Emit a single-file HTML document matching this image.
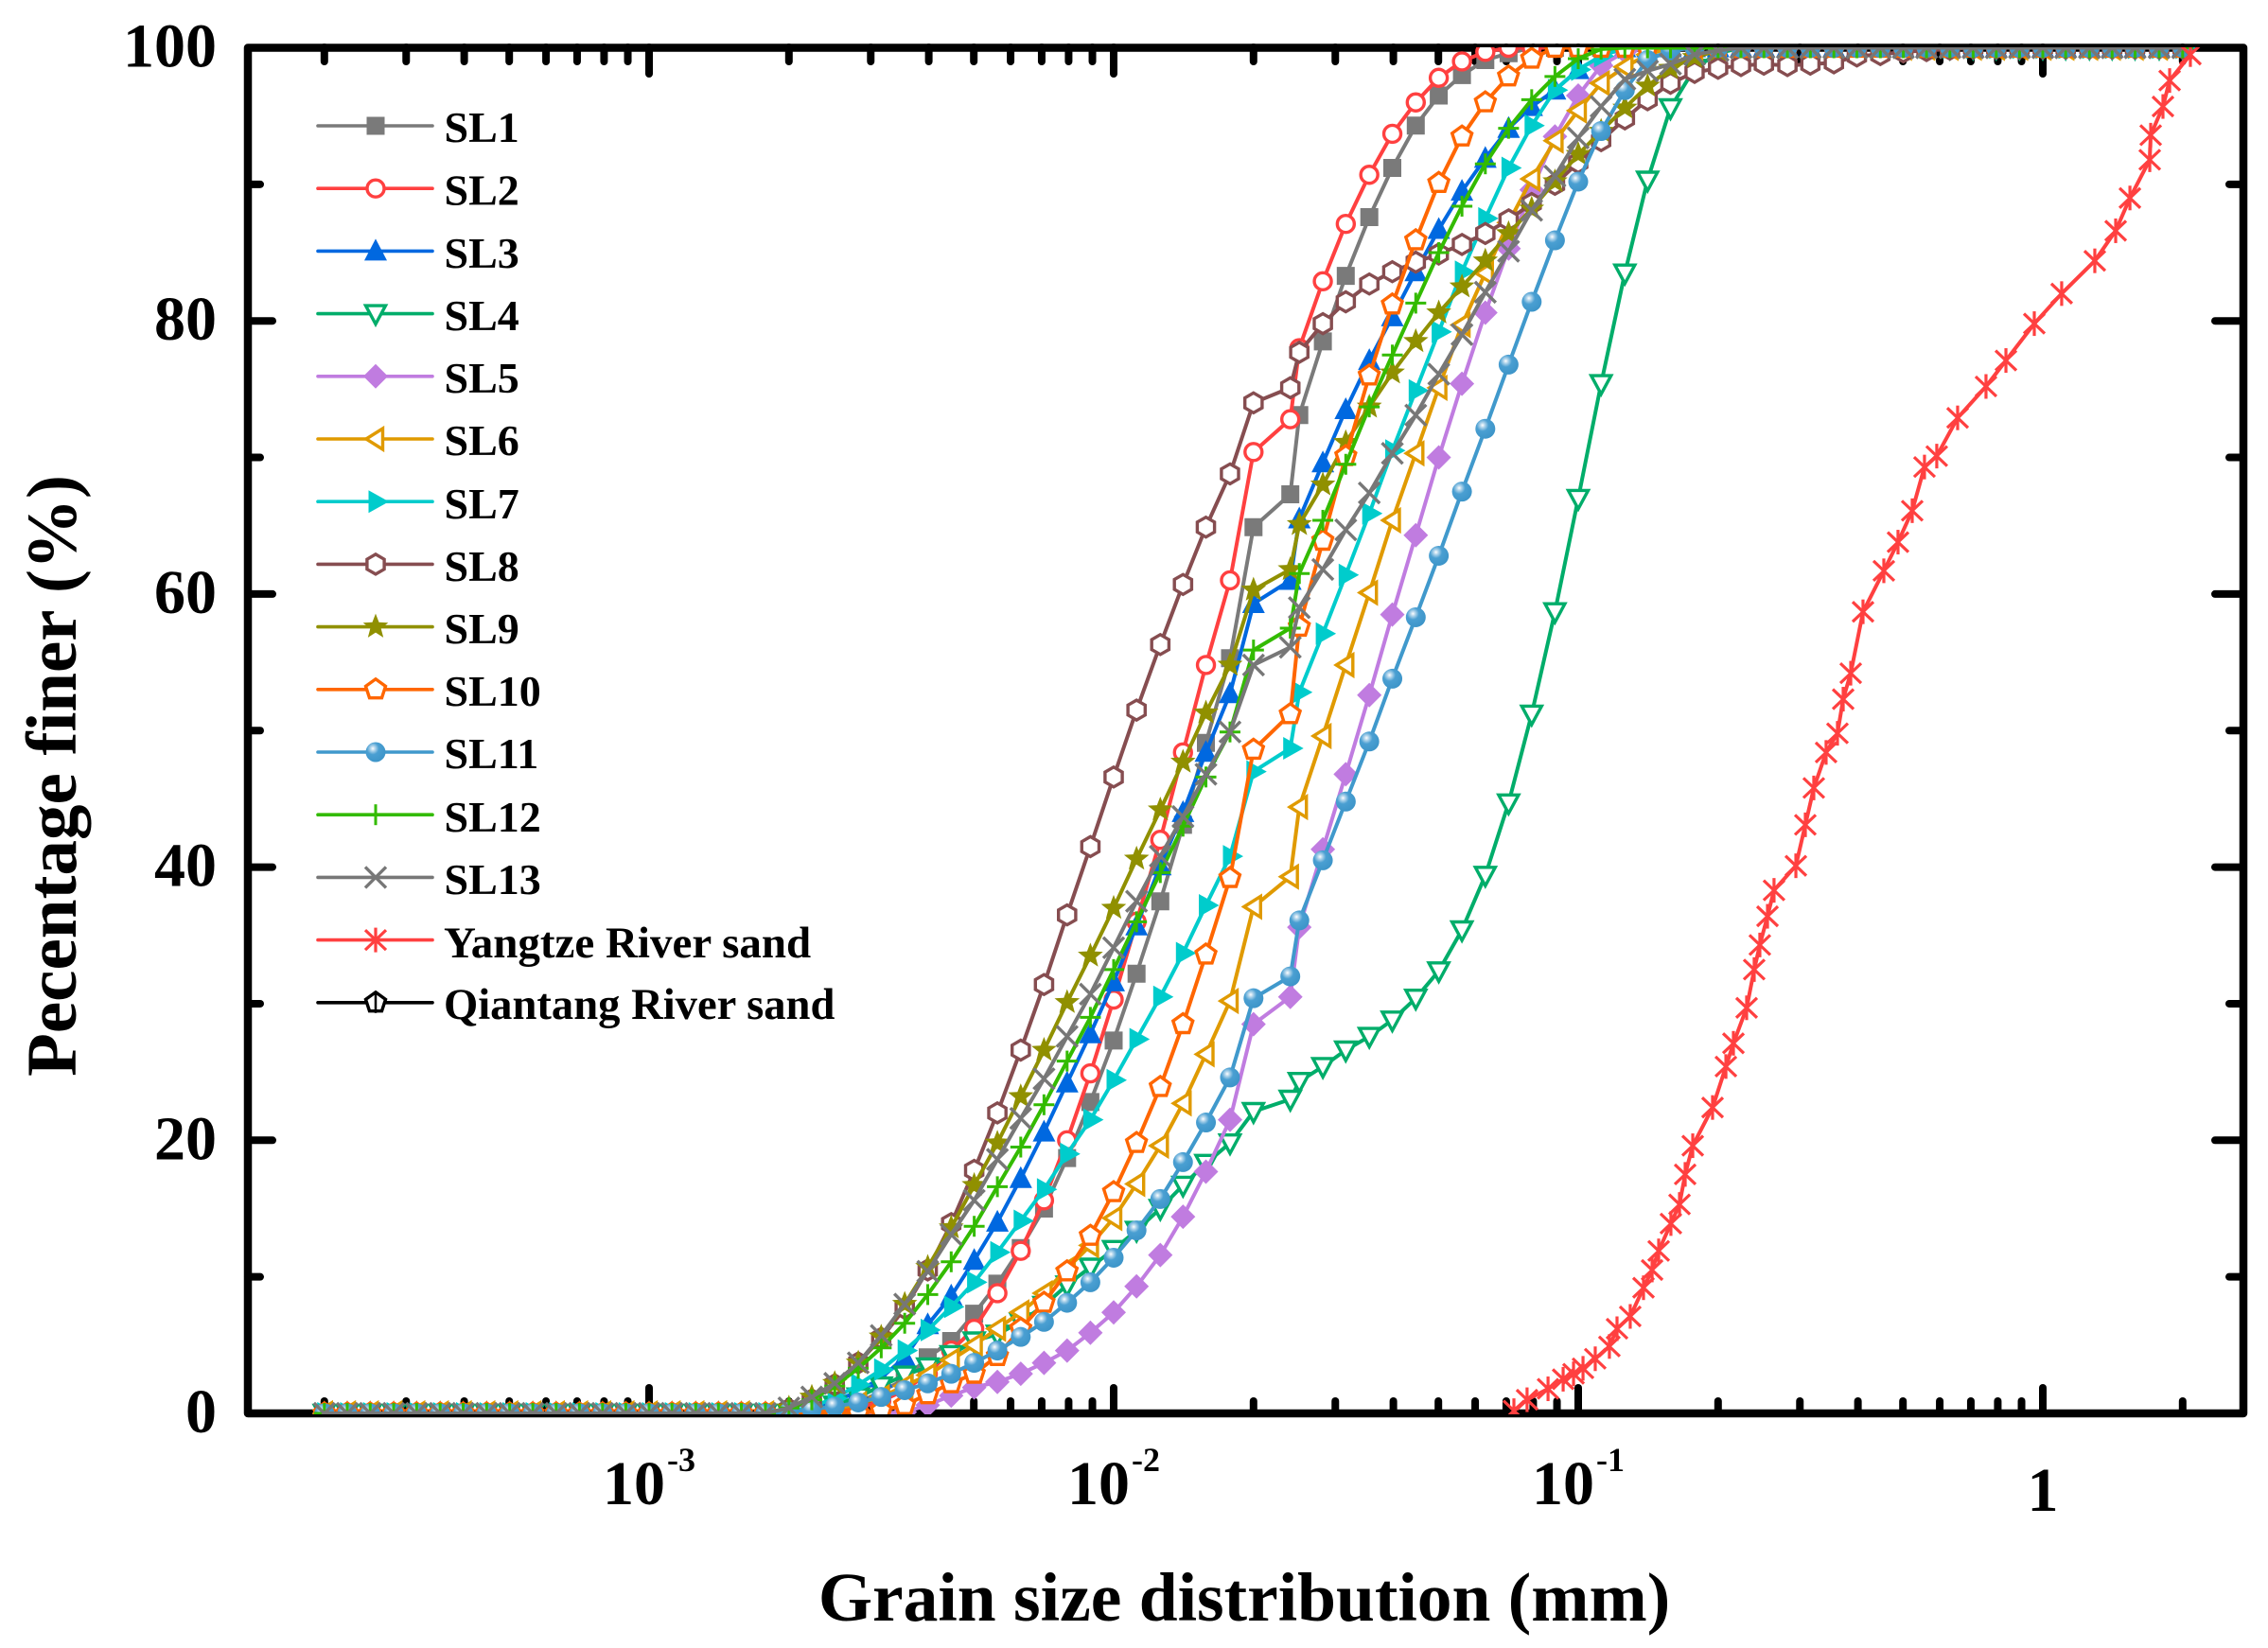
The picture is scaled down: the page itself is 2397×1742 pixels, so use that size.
<!DOCTYPE html>
<html lang="en">
<head>
<meta charset="utf-8">
<title>Grain size distribution</title>
<style>
  html, body { margin: 0; padding: 0; background: #fff; }
  svg { display: block; }
  text { font-family: "Liberation Serif", serif; font-weight: bold; fill: #000; }
</style>
</head>
<body>
<svg id="chart" xmlns="http://www.w3.org/2000/svg" width="2397" height="1742" viewBox="0 0 2397 1742">
  <defs>
    <clipPath id="plot-clip"><rect x="250" y="50" width="2130" height="1445"></rect></clipPath>
    <radialGradient id="ball-fill" cx="0.36" cy="0.32" r="0.72">
      <stop offset="0" stop-color="#ffffff"></stop>
      <stop offset="0.16" stop-color="#b4d6ec"></stop>
      <stop offset="0.42" stop-color="#4a9fd2"></stop>
      <stop offset="1" stop-color="#3c94c8"></stop>
    </radialGradient>
  </defs>
  <rect width="2397" height="1742" fill="#fff"></rect>
  <g id="ticks"></g>
  <rect x="262" y="50.5" width="2109" height="1443.5" fill="none" stroke="#000" stroke-width="8.5" stroke-linejoin="round"></rect>
  <g id="tick-labels"></g>
  <text x="1315" y="1713" font-size="73.5" text-anchor="middle">Grain size distribution (mm)</text>
  <text transform="translate(80 820) rotate(-90)" font-size="75" text-anchor="middle">Pecentage finer (%)</text>
  <g id="series-layer" clip-path="url(#plot-clip)"></g>
  <g id="legend">
    <g><text x="469.5" y="150" font-size="46">SL1</text></g>
    <g><text x="469.5" y="216.5" font-size="46">SL2</text></g>
    <g><text x="469.5" y="283" font-size="46">SL3</text></g>
    <g><text x="469.5" y="349" font-size="46">SL4</text></g>
    <g><text x="469.5" y="415" font-size="46">SL5</text></g>
    <g><text x="469.5" y="481" font-size="46">SL6</text></g>
    <g><text x="469.5" y="548" font-size="46">SL7</text></g>
    <g><text x="469.5" y="614" font-size="46">SL8</text></g>
    <g><text x="469.5" y="680" font-size="46">SL9</text></g>
    <g><text x="469.5" y="746" font-size="46">SL10</text></g>
    <g><text x="469.5" y="812" font-size="46">SL11</text></g>
    <g><text x="469.5" y="879" font-size="46">SL12</text></g>
    <g><text x="469.5" y="945" font-size="46">SL13</text></g>
    <g><text x="469" y="1012" font-size="47">Yangtze River sand</text></g>
    <g><text x="469" y="1077" font-size="46.6">Qiantang River sand</text></g>
  </g>
</svg>
<script>
// ---- chart data ----
const yTickValues = [0, 10, 20, 30, 40, 50, 60, 70, 80, 90, 100];
const yTickLabels = ["0", "", "20", "", "40", "", "60", "", "80", "", "100"];
const xMajorTicks = [0.001, 0.01, 0.1, 1];
const xMajorBases = ["10", "10", "10", "1"];
const xMajorExponents = ["-3", "-2", "-1", ""];
const xMinorTicks = [0.0002,0.0003,0.0004,0.0005,0.0006,0.0007,0.0008,0.0009,
  0.002,0.003,0.004,0.005,0.006,0.007,0.008,0.009,
  0.02,0.03,0.04,0.05,0.06,0.07,0.08,0.09,
  0.2,0.3,0.4,0.5,0.6,0.7,0.8,0.9,2];

const grainSizes = [
  0.0002,0.000224,0.000251,0.000282,0.000316,0.000355,0.000398,0.000447,0.000501,0.000562,
  0.000631,0.000708,0.000794,0.000891,0.001,0.00112,0.00126,0.00141,0.00158,0.00178,
  0.002,0.00224,0.00251,0.00282,0.00316,0.00355,0.00398,0.00447,0.00501,0.00562,
  0.00631,0.00708,0.00794,0.00891,0.01,0.0112,0.0126,0.0141,0.0158,0.0178,
  0.02,0.024,0.0251,0.0282,0.0316,0.0355,0.0398,0.0447,0.0501,0.0562,
  0.0631,0.0708,0.0794,0.0891,0.1,0.112,0.126,0.141,0.158,0.178,
  0.2,0.224,0.251,0.282,0.316,0.355,0.398,0.447,0.501,0.562,
  0.631,0.708,0.794,0.891,1,1.12,1.26,1.41,1.58,1.78,2
];

const sl1 = [0,0,0,0,0,0,0,0,0,0,0,0,0,0,0,0,0,0,0,0,
  0,0.1,0.4,0.8,1.6,2.5,4.1,5.3,7.3,9.5,
  12.1,15,18.7,22.8,27.3,32.2,37.5,43.1,49.1,55.3,
  64.9,67.3,73.1,78.5,83.3,87.6,91.2,94.3,96.5,98,
  99.1,99.6,100,100,100,100,100,100,100,100,
  100,100,100,100,100,100,100,100,100,100,
  100,100,100,100,100,100,100,100,100,100,100];
const sl2 = [0,0,0,0,0,0,0,0,0,0,0,0,0,0,0,0,0,0,0,0,
  0,0,0.1,0.4,0.9,1.7,2.9,4.6,6.2,8.8,
  11.9,15.6,20,24.9,30.3,36,42,48.4,54.8,61,
  70.4,72.8,78,82.9,87.1,90.7,93.7,96,97.8,99,
  99.7,100,100,100,100,100,100,100,100,100,
  100,100,100,100,100,100,100,100,100,100,
  100,100,100,100,100,100,100,100,100,100,100];
const sl3 = [0,0,0,0,0,0,0,0,0,0,0,0,0,0,0,0,0,0,0,0,
  0.1,0.4,0.9,1.6,2.6,4.1,6.5,8.6,11.2,14,
  17.2,20.6,24.2,27.8,31.6,35.7,40.1,44,48.4,52.7,
  59.3,61,65.5,69.6,73.5,77.1,80.3,83.6,86.7,89.5,
  91.9,94.1,95.7,96.9,98.4,99.4,100,100,100,100,
  100,100,100,100,100,100,100,100,100,100,
  100,100,100,100,100,100,100,100,100,100,100];
const sl4 = [0,0,0,0,0,0,0,0,0,0,0,0,0,0,0,0,0,0,0,0,
  0,0.2,0.6,1.2,2,2.8,3.4,4.3,5.3,5.8,
  6.7,7.9,9.4,10.7,12,13.4,15,16.7,18.3,19.8,
  22.1,23,24.3,25.4,26.6,27.6,28.8,30.4,32.4,35.4,
  39.4,44.7,51.2,58.7,67,75.4,83.5,90.3,95.6,98.5,
  99.6,100,100,100,100,100,100,100,100,100,
  100,100,100,100,100,100,100,100,100,100,100];
const sl5 = [0,0,0,0,0,0,0,0,0,0,0,0,0,0,0,0,0,0,0,0,
  0,0,0,0,0,0.1,0.6,1.3,1.9,2.3,
  2.9,3.7,4.6,5.9,7.4,9.3,11.6,14.4,17.7,21.5,
  28.5,30.5,35.6,41.3,46.8,52.6,58.5,64.3,70,75.4,
  80.6,85.3,89.6,93.5,96.5,98.7,99.7,100,100,100,
  100,100,100,100,100,100,100,100,100,100,
  100,100,100,100,100,100,100,100,100,100,100];
const sl6 = [0,0,0,0,0,0,0,0,0,0,0,0,0,0,0,0,0,0,0,0,
  0,0.1,0.3,0.7,1.2,2,2.8,3.9,5,6.2,
  7.4,8.8,10.6,12.3,14.3,16.8,19.6,22.7,26.3,30.2,
  37.1,39.3,44.4,49.6,54.8,60.1,65.4,70.3,75.1,79.7,
  83.5,87.2,90.4,93.2,95.4,97.4,98.6,99.5,100,100,
  100,100,100,100,100,100,100,100,100,100,
  100,100,100,100,100,100,100,100,100,100,100];
const sl7 = [0,0,0,0,0,0,0,0,0,0,0,0,0,0,0,0,0,0,0,0,
  0.1,0.5,1.1,2.1,3.2,4.6,6.1,7.8,9.6,11.8,
  14.1,16.4,19,21.5,24.4,27.4,30.5,33.7,37.2,40.8,
  47,48.7,52.8,57.1,61.4,65.9,70.5,74.9,79.2,83.6,
  87.5,91.2,94.3,96.9,98.4,99.4,100,100,100,100,
  100,100,100,100,100,100,100,100,100,100,
  100,100,100,100,100,100,100,100,100,100,100];
const sl8 = [0,0,0,0,0,0,0,0,0,0,0,0,0,0,0,0,0,0,0,0,
  0.3,1,2.1,3.7,5.5,7.7,10.5,13.9,17.8,22,
  26.6,31.4,36.5,41.5,46.6,51.5,56.3,60.7,64.9,68.8,
  74,75.1,77.7,79.8,81.4,82.7,83.6,84.3,84.9,85.6,
  86.4,87.4,88.6,90,91.6,93.2,94.8,96.2,97.4,98.2,
  98.5,98.7,98.8,98.7,98.8,98.9,99.4,99.5,99.7,99.8,
  99.9,100,100,100,100,100,100,100,100,100,100];
const sl9 = [0,0,0,0,0,0,0,0,0,0,0,0,0,0,0,0,0,0,0,0,
  0.4,1.2,2.2,3.7,5.6,8,10.7,13.6,16.7,19.8,
  23.2,26.6,30.1,33.5,37,40.6,44.2,47.7,51.3,54.8,
  60.3,61.8,65.1,68,71.1,73.7,76.2,78.5,80.6,82.5,
  84.4,86.4,88.2,90.2,92.2,93.9,95.6,97.2,98.5,99.3,
  99.8,100,100,100,100,100,100,100,100,100,
  100,100,100,100,100,100,100,100,100,100,100];
const sl10 = [0,0,0,0,0,0,0,0,0,0,0,0,0,0,0,0,0,0,0,0,
  0,0,0,0,0.2,0.6,1.4,2.2,2.9,4.2,
  6.2,8.1,10.4,13,16.2,19.8,23.9,28.5,33.6,39.2,
  48.6,51.2,57.6,63.9,70.1,76,81.2,85.9,90.1,93.5,
  96,97.9,99.2,100,100,100,100,100,100,100,
  100,100,100,100,100,100,100,100,100,100,
  100,100,100,100,100,100,100,100,100,100,100];
const sl11 = [0,0,0,0,0,0,0,0,0,0,0,0,0,0,0,0,0,0,0,0,
  0.1,0.3,0.5,0.8,1.2,1.7,2.2,2.9,3.7,4.6,
  5.6,6.7,8.1,9.6,11.4,13.4,15.7,18.4,21.3,24.6,
  30.4,32,36.1,40.5,44.8,49.2,53.8,58.3,62.8,67.5,
  72.1,76.8,81.4,85.9,90.2,93.9,96.9,99.1,99.8,100,
  100,100,100,100,100,100,100,100,100,100,
  100,100,100,100,100,100,100,100,100,100,100];
const sl12 = [0,0,0,0,0,0,0,0,0,0,0,0,0,0,0,0,0,0,0,0,
  0.4,1,2,3.3,4.8,6.6,8.7,11.1,13.7,16.6,
  19.5,22.6,25.8,29,32.5,36,39.6,43,46.6,49.9,
  55.9,57.5,61.5,65.4,69.5,73.7,77.5,81.3,85,88.4,
  91.5,94.1,96.2,97.9,99.2,99.9,100,100,100,100,
  100,100,100,100,100,100,100,100,100,100,
  100,100,100,100,100,100,100,100,100,100,100];
const sl13 = [0,0,0,0,0,0,0,0,0,0,0,0,0,0,0,0,0,0,0,0,
  0.4,1.2,2.2,3.7,5.7,8,10.4,13.1,15.6,18.6,
  21.6,24.5,27.6,30.7,34.1,37.5,40.8,43.7,46.8,49.9,
  54.8,56.1,59,61.8,64.7,67.4,70.3,73.1,76.1,79,
  82.1,85.1,88.1,90.6,93.4,95.7,97.7,98.3,98.8,99.5,
  99.8,100,100,100,100,100,100,100,100,100,
  100,100,100,100,100,100,100,100,100,100,100];

const yangtzeSizes = [0.0727,0.0776,0.0861,0.0928,0.0977,0.1024,0.1088,0.1167,0.1212,0.1294,
  0.1382,0.1442,0.149,0.1583,0.1652,0.1699,0.1764,0.1946,0.2079,0.2158,
  0.2304,0.2392,0.246,0.2555,0.2639,0.2941,0.3082,0.3214,0.3416,0.3614,
  0.3718,0.386,0.4102,0.4548,0.4879,0.5235,0.5563,0.5912,0.6556,0.7546,
  0.833,0.9587,1.098,1.294,1.435,1.54,1.699,1.707,1.814,1.875,2.078];
const yangtzeFiner = [0.2,1,1.8,2.5,2.9,3.3,4,4.9,6.2,7.1,
  9.2,10.5,11.9,13.9,15.3,17.5,19.6,22.4,25.4,27.1,
  29.7,32.5,34.3,36.4,38.3,40.1,43.1,45.8,48.4,49.8,
  52.3,54.2,58.7,61.7,63.8,66.1,69.3,70.1,72.9,75.2,
  77.1,79.8,82,84.4,86.6,89,91.8,93.6,95.7,97.6,99.5];

const seriesKeys = ["sl1","sl2","sl3","sl4","sl5","sl6","sl7","sl8","sl9","sl10","sl11","sl12","sl13","yangtze-river-sand"];
const seriesSizes = [grainSizes,grainSizes,grainSizes,grainSizes,grainSizes,grainSizes,grainSizes,grainSizes,grainSizes,grainSizes,grainSizes,grainSizes,grainSizes,yangtzeSizes];
const seriesValues = [sl1,sl2,sl3,sl4,sl5,sl6,sl7,sl8,sl9,sl10,sl11,sl12,sl13,yangtzeFiner];
const seriesColors = ["#7a7a7a","#ff4040","#0068e0","#00ad6a","#c07ce0","#e09a00","#00cccc","#864d50","#909000","#ff6600","#4099cc","#33bb00","#777777","#ff4040"];
const seriesMarkers = ["square","circle","triangle-up","triangle-down","diamond","triangle-left","triangle-right","hexagon","star","pentagon","ball","plus","cross","asterisk"];

const legendKeys = ["sl1","sl2","sl3","sl4","sl5","sl6","sl7","sl8","sl9","sl10","sl11","sl12","sl13","yangtze","qiantang"];
const legendColors = ["#7a7a7a","#ff4040","#0068e0","#00ad6a","#c07ce0","#e09a00","#00cccc","#864d50","#909000","#ff6600","#4099cc","#33bb00","#777777","#ff4040","#000000"];
const legendMarkers = ["square","circle","triangle-up","triangle-down","diamond","triangle-left","triangle-right","hexagon","star","pentagon","ball","plus","cross","asterisk","pentagon-bar"];

// ---- axis functions ----
const NS = "http://www.w3.org/2000/svg";
const xAt = d => 2159 + 491 * Math.log10(d);
const yAt = v => 1494 - 14.435 * v;

function make(tag, parent) {
  const el = document.createElementNS(NS, tag);
  parent.appendChild(el);
  return el;
}
function polyPoints(cx, cy, offsets) {
  return offsets.map(p => (cx + p[0]).toFixed(1) + "," + (cy + p[1]).toFixed(1)).join(" ");
}
function regular(n, r, startDeg) {
  const out = [];
  for (let i = 0; i < n; i++) {
    const a = (startDeg + i * 360 / n) * Math.PI / 180;
    out.push([r * Math.cos(a), r * Math.sin(a)]);
  }
  return out;
}
function strokeArms(parent, cx, cy, arms, color, w) {
  arms.forEach(a => {
    const l = make("line", parent);
    l.setAttribute("x1", cx - a[0]);
    l.setAttribute("y1", cy - a[1]);
    l.setAttribute("x2", cx + a[0]);
    l.setAttribute("y2", cy + a[1]);
    l.setAttribute("stroke", color);
    l.setAttribute("stroke-width", w);
  });
}
function poly(parent, cx, cy, offsets, fill, stroke) {
  const p = make("polygon", parent);
  p.setAttribute("points", polyPoints(cx, cy, offsets));
  p.setAttribute("fill", fill);
  if (stroke) {
    p.setAttribute("stroke", stroke);
    p.setAttribute("stroke-width", "3.4");
  }
  return p;
}
function drawMarker(parent, kind, cx, cy, color) {
  switch (kind) {
    case "square": {
      poly(parent, cx, cy, [[-9.5,-9.5],[9.5,-9.5],[9.5,9.5],[-9.5,9.5]], color);
      break;
    }
    case "circle": {
      const c = make("circle", parent);
      c.setAttribute("cx", cx);
      c.setAttribute("cy", cy);
      c.setAttribute("r", "9");
      c.setAttribute("fill", "#fff");
      c.setAttribute("stroke", color);
      c.setAttribute("stroke-width", "3.4");
      break;
    }
    case "triangle-up":
      poly(parent, cx, cy, [[0,-13],[12,10],[-12,10]], color);
      break;
    case "triangle-down":
      poly(parent, cx, cy, [[-10.5,-8.5],[10.5,-8.5],[0,11]], "#fff", color);
      break;
    case "diamond":
      poly(parent, cx, cy, [[0,-13],[13,0],[0,13],[-13,0]], color);
      break;
    case "triangle-left":
      poly(parent, cx, cy, [[-10,0],[7.5,-11],[7.5,11]], "#fff", color);
      break;
    case "triangle-right":
      poly(parent, cx, cy, [[-7.5,-12],[14,0],[-7.5,12]], color);
      break;
    case "hexagon":
      poly(parent, cx, cy, regular(6, 10.5, -90), "#fff", color);
      break;
    case "star": {
      const outer = regular(5, 14, -90);
      const inner = regular(5, 6, -54);
      const pts = [];
      outer.forEach((o, i) => { pts.push(o); pts.push(inner[i]); });
      poly(parent, cx, cy, pts, color);
      break;
    }
    case "pentagon":
      poly(parent, cx, cy, regular(5, 11, -90), "#fff", color);
      break;
    case "pentagon-bar":
      poly(parent, cx, cy, regular(5, 11, -90), "#fff", color);
      strokeArms(parent, cx, cy, [[0, 11]], color, 2.5);
      break;
    case "ball": {
      const c = make("circle", parent);
      c.setAttribute("cx", cx);
      c.setAttribute("cy", cy);
      c.setAttribute("r", "10.5");
      c.setAttribute("fill", "url(#ball-fill)");
      break;
    }
    case "plus":
      strokeArms(parent, cx, cy, [[11, 0], [0, 11]], color, 3);
      break;
    case "cross":
      strokeArms(parent, cx, cy, [[11, 11], [11, -11]], color, 3.4);
      break;
    case "asterisk":
      strokeArms(parent, cx, cy, [[0, 13], [11, 10.5], [11, -10.5]], color, 3.2);
      break;
  }
}

// ---- ticks ----
const tickLayer = document.getElementById("ticks");
function tick(x1, y1, x2, y2, name) {
  const l = make("line", tickLayer);
  
  
  l.setAttribute("x1", x1);
  l.setAttribute("y1", y1);
  l.setAttribute("x2", x2);
  l.setAttribute("y2", y2);
  l.setAttribute("stroke", "#000");
  l.setAttribute("stroke-width", "8");
  l.setAttribute("stroke-linecap", "round");
}
xMajorTicks.forEach(d => {
  tick(xAt(d), 1494, xAt(d), 1467, "x-major-tick");
  tick(xAt(d), 50, xAt(d), 78, "x-major-tick-top");
});
xMinorTicks.forEach(d => {
  tick(xAt(d), 1494, xAt(d), 1481, "x-minor-tick");
  tick(xAt(d), 50, xAt(d), 65, "x-minor-tick-top");
});
yTickValues.forEach((v, i) => {
  const major = yTickLabels[i] !== "";
  tick(262, yAt(v), major ? 288 : 275, yAt(v), "y-tick");
  tick(2371, yAt(v), major ? 2341 : 2356, yAt(v), "y-tick-right");
});

// ---- tick labels ----
const labelLayer = document.getElementById("tick-labels");
yTickLabels.forEach((txt, i) => {
  if (!txt) return;
  const t = make("text", labelLayer);
  
  
  t.setAttribute("x", "229");
  t.setAttribute("y", yAt(yTickValues[i]) + 20);
  t.setAttribute("font-size", "66");
  t.setAttribute("text-anchor", "end");
  t.textContent = txt;
});
xMajorTicks.forEach((d, i) => {
  const t = make("text", labelLayer);
  
  
  t.setAttribute("x", xAt(d));
  t.setAttribute("y", xMajorExponents[i] ? 1590 : 1597);
  t.setAttribute("font-size", "66");
  t.setAttribute("text-anchor", "middle");
  const base = make("tspan", t);
  base.textContent = xMajorBases[i];
  if (xMajorExponents[i]) {
    const sup = make("tspan", t);
    sup.setAttribute("font-size", "36");
    sup.setAttribute("dy", "-35");
    sup.setAttribute("dx", "2");
    sup.textContent = xMajorExponents[i];
  }
});

// ---- series ----
const seriesLayer = document.getElementById("series-layer");
seriesValues.forEach((values, s) => {
  const sizes = seriesSizes[s];
  const group = make("g", seriesLayer);
  
  
  const line = make("polyline", group);
  
  
  line.setAttribute("points", values.map((v, i) => xAt(sizes[i]).toFixed(1) + "," + yAt(v).toFixed(1)).join(" "));
  line.setAttribute("fill", "none");
  line.setAttribute("stroke", seriesColors[s]);
  line.setAttribute("stroke-width", "4");
  line.setAttribute("stroke-linejoin", "round");
  values.forEach((v, i) => {
    const m = make("g", group);
    
    
    drawMarker(m, seriesMarkers[s], xAt(sizes[i]), yAt(v), seriesColors[s]);
  });
});

// ---- legend symbols ----
const legendEntries = document.getElementById("legend").children;
legendKeys.forEach((key, i) => {
  const y = 133 + 66.2 * i;
  const entry = legendEntries[i];
  const sym = document.createElementNS(NS, "g");
  entry.insertBefore(sym, entry.firstChild);
  
  
  const l = make("line", sym);
  l.setAttribute("x1", "336");
  l.setAttribute("x2", "457");
  l.setAttribute("y1", y);
  l.setAttribute("y2", y);
  l.setAttribute("stroke", legendColors[i]);
  l.setAttribute("stroke-width", "3.6");
  l.setAttribute("stroke-linecap", "round");
  drawMarker(sym, legendMarkers[i], 397, y, legendColors[i]);
});
</script>
</body>
</html>
